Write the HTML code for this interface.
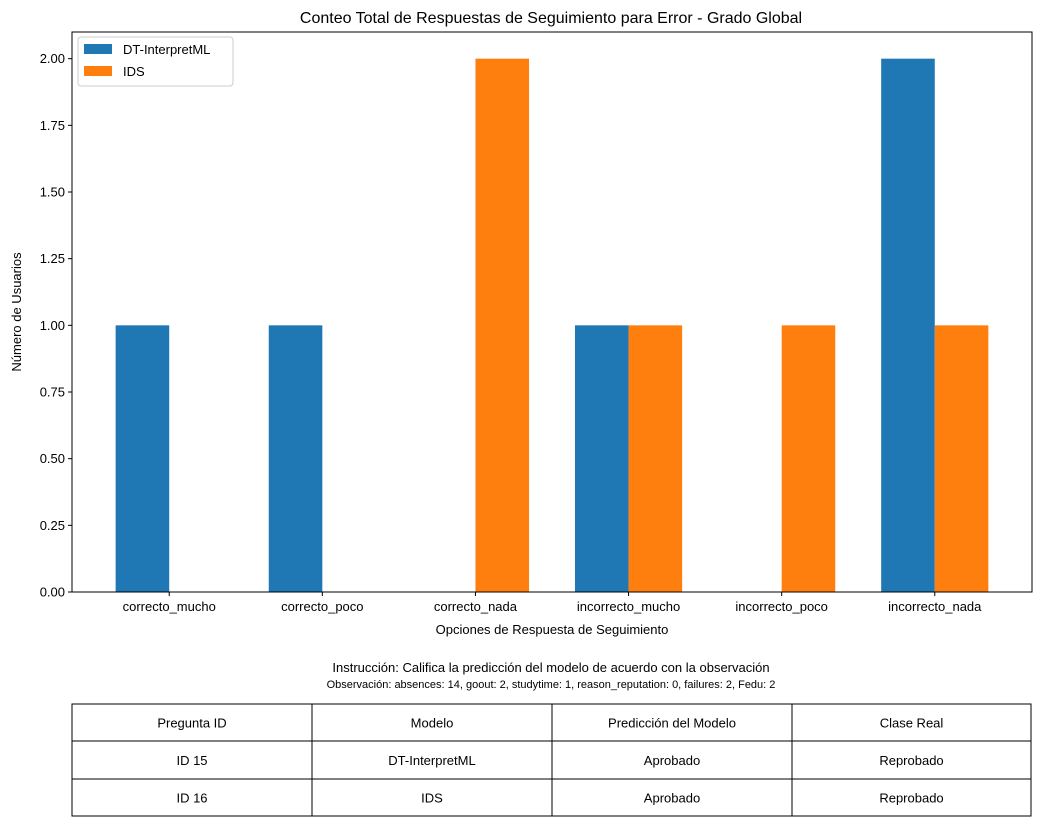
<!DOCTYPE html>
<html><head><meta charset="utf-8"><style>
body{margin:0;background:#fff;font-family:"Liberation Sans","DejaVu Sans",sans-serif}
</style></head><body>
<svg id="s" width="1041" height="826" xmlns="http://www.w3.org/2000/svg" font-family="Liberation Sans, DejaVu Sans, sans-serif">
<text x="551" y="23" text-anchor="middle" font-size="16">Conteo Total de Respuestas de Seguimiento para Error - Grado Global</text>
<g id="bars"></g>
<g id="axes"></g>
<rect x="72" y="32" width="960" height="560" fill="none" stroke="#000" stroke-width="1"/>
<text x="552" y="634" text-anchor="middle" font-size="13">Opciones de Respuesta de Seguimiento</text>
<text transform="translate(21,312) rotate(-90)" text-anchor="middle" font-size="13">Número de Usuarios</text>
<g>
<rect x="78" y="37" width="155" height="49" rx="3" fill="#fff" stroke="#ccc"/>
<rect x="84" y="44" width="28" height="10" fill="#1f77b4"/>
<text x="123" y="54" font-size="13">DT-InterpretML</text>
<rect x="84" y="66" width="28" height="10" fill="#ff7f0e"/>
<text x="123" y="76" font-size="13">IDS</text>
</g>
<text x="551" y="672" text-anchor="middle" font-size="13">Instrucción: Califica la predicción del modelo de acuerdo con la observación</text>
<text x="551" y="688" text-anchor="middle" font-size="11">Observación: absences: 14, goout: 2, studytime: 1, reason_reputation: 0, failures: 2, Fedu: 2</text>
<g id="table"></g>
</svg>
<script>
const categories=["correcto_mucho","correcto_poco","correcto_nada","incorrecto_mucho","incorrecto_poco","incorrecto_nada"];
const dtValues=[1,1,0,1,0,2];
const idsValues=[0,0,2,1,1,1];
const yTicks=[0,0.25,0.5,0.75,1.0,1.25,1.5,1.75,2.0];
const tableRows=[["Pregunta ID","Modelo","Predicción del Modelo","Clase Real"],["ID 15","DT-InterpretML","Aprobado","Reprobado"],["ID 16","IDS","Aprobado","Reprobado"]];
const NS="http://www.w3.org/2000/svg";
const L=72,R=1032,T=32,B=592,xmin=-0.635,xmax=5.635,ymax=2.1;
const xs=v=>L+(v-xmin)/(xmax-xmin)*(R-L);
const ys=v=>B-v/ymax*(B-T);
const W=0.35;
function mk(tag,a,p){const e=document.createElementNS(NS,tag);for(const k in a)e.setAttribute(k,a[k]);p.appendChild(e);return e;}
const bars=document.getElementById('bars'),axes=document.getElementById('axes');
categories.forEach((c,i)=>{
 const b1=mk('rect',{x:xs(i-W),y:ys(dtValues[i]),width:xs(i)-xs(i-W),height:ys(0)-ys(dtValues[i]),fill:'#1f77b4'},bars);
 
 
 const b2=mk('rect',{x:xs(i),y:ys(idsValues[i]),width:xs(i+W)-xs(i),height:ys(0)-ys(idsValues[i]),fill:'#ff7f0e'},bars);
 
 
 mk('line',{x1:xs(i),x2:xs(i),y1:B,y2:B+4,stroke:'#000'},axes);
 const t=mk('text',{x:xs(i),y:B+19,'text-anchor':'middle','font-size':13},axes);
 t.textContent=c;
 
 
});
yTicks.forEach(v=>{
 mk('line',{x1:L-4,x2:L,y1:ys(v),y2:ys(v),stroke:'#000'},axes);
 const t=mk('text',{x:L-7,y:ys(v)+4.5,'text-anchor':'end','font-size':13},axes);
 t.textContent=v.toFixed(2);
 
 
});
const tb=document.getElementById('table');
const rowY=[704,741,779,816],colX=[72,312,552,792,1031];
tableRows.forEach((r,ri)=>{r.forEach((cell,ci)=>{
 mk('rect',{x:colX[ci],y:rowY[ri],width:colX[ci+1]-colX[ci],height:rowY[ri+1]-rowY[ri],fill:'#fff',stroke:'#000'},tb);
 const t=mk('text',{x:(colX[ci]+colX[ci+1])/2,y:(rowY[ri]+rowY[ri+1])/2+5,'text-anchor':'middle','font-size':13},tb);
 t.textContent=cell;
 
 
});});
</script>
</body></html>
